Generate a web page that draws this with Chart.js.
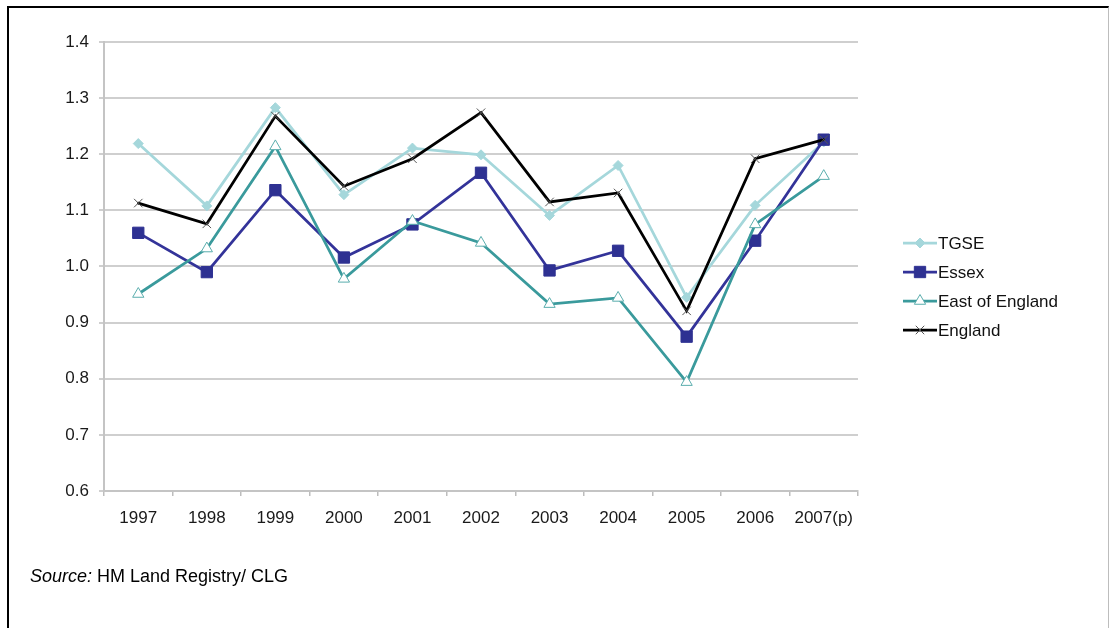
<!DOCTYPE html>
<html>
<head>
<meta charset="utf-8">
<script src="https://cdn.jsdelivr.net/npm/chart.js@4/dist/chart.umd.min.js"></script>
<style>
  html, body { margin: 0; padding: 0; background: #fff; }
  #wrap { position: relative; width: 1111px; height: 628px; overflow: hidden; }
  #frame { position: absolute; left: 7px; top: 6px; width: 1102px; height: 640px;
           border-left: 2px solid #000; border-top: 2px solid #000; border-right: 1px solid #bdbdbd; box-sizing: border-box; pointer-events: none; }
  canvas { position: absolute; left: 0; top: 0; }
</style>
</head>
<body>
<div id="wrap">
  <canvas id="c" width="1111" height="628"></canvas>
  <div id="frame"></div>
</div>
<script>
const categories = ['1997','1998','1999','2000','2001','2002','2003','2004','2005','2006','2007(p)'];
const seriesNames = ['TGSE','Essex','East of England','England'];
const tgse          = [1.219, 1.108, 1.283, 1.128, 1.211, 1.199, 1.091, 1.180, 0.945, 1.109, 1.222];
const essex         = [1.060, 0.990, 1.136, 1.016, 1.075, 1.167, 0.993, 1.028, 0.875, 1.046, 1.226];
const eastOfEngland = [0.951, 1.032, 1.214, 0.978, 1.081, 1.042, 0.933, 0.944, 0.794, 1.075, 1.161];
const england       = [1.113, 1.076, 1.268, 1.143, 1.192, 1.274, 1.115, 1.131, 0.921, 1.192, 1.226];
const yTickValues = [0.6, 0.7, 0.8, 0.9, 1.0, 1.1, 1.2, 1.3, 1.4];
const sourceLabel = 'Source:';
const sourceText = ' HM Land Registry/ CLG';

const FONT = '"Liberation Sans", Arial, sans-serif';

const datasets = [
  { label: seriesNames[0], data: tgse, borderColor: '#a5d7db', backgroundColor: '#a5d7db',
    borderWidth: 2.75, pointStyle: 'rectRot', pointRadius: 5, pointBorderWidth: 1,
    pointBackgroundColor: '#a5d7db', pointBorderColor: '#a5d7db', order: 4, tension: 0 },
  { label: seriesNames[1], data: essex, borderColor: '#333399', backgroundColor: '#333399',
    borderWidth: 2.75, pointStyle: 'rect', pointRadius: 8, pointBorderWidth: 1,
    pointBackgroundColor: '#2e3192', pointBorderColor: '#2e3192', order: 3, tension: 0 },
  { label: seriesNames[2], data: eastOfEngland, borderColor: '#3a9a9c', backgroundColor: '#ffffff',
    borderWidth: 2.75, pointStyle: 'triangle', pointRadius: 6.5, pointBorderWidth: 1,
    pointBackgroundColor: '#ffffff', pointBorderColor: '#5aadad', order: 2, tension: 0 },
  { label: seriesNames[3], data: england, borderColor: '#000000', backgroundColor: '#000000',
    borderWidth: 2.75, pointStyle: 'crossRot', pointRadius: 6, pointBorderWidth: 1,
    pointBackgroundColor: '#555555', pointBorderColor: '#555555', order: 1, tension: 0 }
];

const customLegend = {
  id: 'customLegend',
  afterDraw(chart) {
    const ctx = chart.ctx;
    const x0 = 903, x1 = 937, rows = [243, 272, 301, 330];
    chart.data.datasets.forEach((ds, i) => {
      const y = rows[i];
      ctx.save();
      ctx.strokeStyle = ds.borderColor;
      ctx.lineWidth = ds.borderWidth;
      ctx.beginPath(); ctx.moveTo(x0, y); ctx.lineTo(x1, y); ctx.stroke();
      ctx.fillStyle = ds.pointBackgroundColor;
      ctx.strokeStyle = ds.pointBorderColor;
      ctx.lineWidth = ds.pointBorderWidth;
      Chart.helpers.drawPoint(ctx, { pointStyle: ds.pointStyle, radius: ds.pointRadius, rotation: 0, borderWidth: ds.pointBorderWidth }, (x0 + x1) / 2, y);
      ctx.fillStyle = '#111';
      ctx.font = '17px ' + FONT;
      ctx.textBaseline = 'middle';
      ctx.textAlign = 'left';
      ctx.fillText(ds.label, x1 + 1, y + 1);
      ctx.restore();
    });
    // source note
    ctx.save();
    ctx.fillStyle = '#000';
    ctx.textBaseline = 'alphabetic';
    ctx.textAlign = 'left';
    ctx.font = 'italic 18px ' + FONT;
    ctx.fillText(sourceLabel, 30, 582);
    const w = ctx.measureText(sourceLabel).width;
    ctx.font = '18px ' + FONT;
    ctx.fillText(sourceText, 30 + w, 582);
    ctx.restore();
  }
};

new Chart(document.getElementById('c'), {
  type: 'line',
  data: { labels: categories, datasets: datasets },
  options: {
    responsive: false,
    animation: false,
    devicePixelRatio: 1,
    layout: { padding: { top: 42, right: 253, bottom: 0, left: 0 } },
    plugins: { legend: { display: false }, tooltip: { enabled: false } },
    elements: { line: { borderCapStyle: 'round', borderJoinStyle: 'miter' } },
    scales: {
      x: {
        offset: true,
        grid: { offset: true, drawOnChartArea: false, drawTicks: true, tickLength: 5, color: '#bdbdbd', lineWidth: 1.5 },
        border: { display: true, color: '#c4c4c4', width: 2 },
        ticks: { color: '#1a1a1a', font: { family: FONT, size: 17 }, padding: 12, maxRotation: 0, autoSkip: false },
        afterFit(scale) { scale.height = 137; }
      },
      y: {
        min: 0.6, max: 1.4,
        afterBuildTicks(scale) { scale.ticks = yTickValues.map(v => ({ value: v })); },
        grid: { color: '#cfcfcf', lineWidth: 2, tickLength: 5, drawTicks: true },
        border: { display: true, color: '#c4c4c4', width: 2 },
        ticks: { color: '#1a1a1a', font: { family: FONT, size: 17 }, padding: 10,
                 callback: (v) => Number(v).toFixed(1) },
        afterFit(scale) { scale.width = 104; }
      }
    }
  },
  plugins: [customLegend]
});
</script>
</body>
</html>
